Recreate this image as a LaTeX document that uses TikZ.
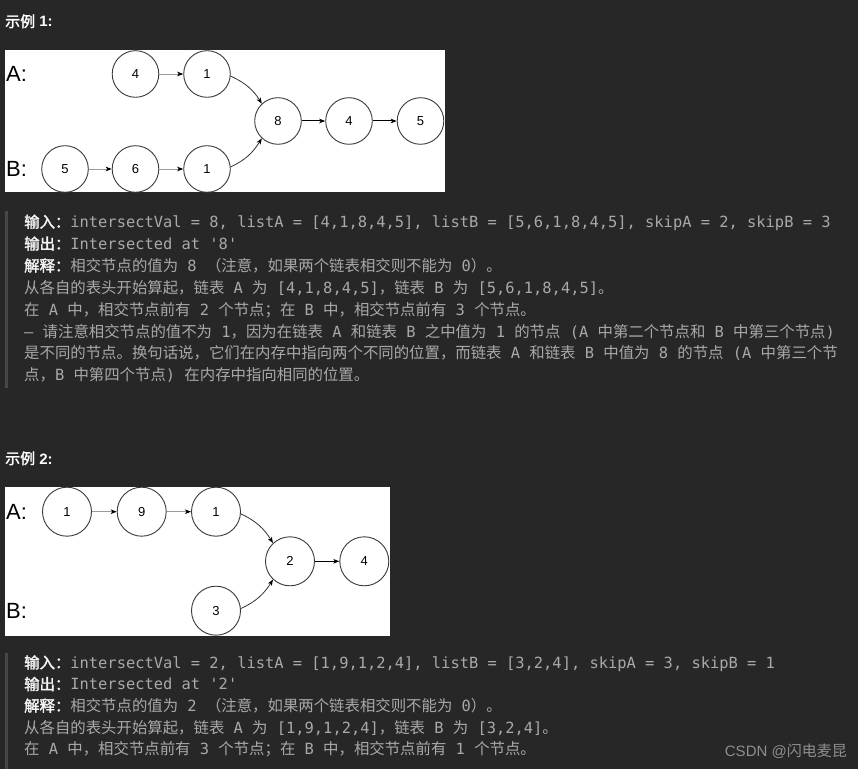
\documentclass[tikz,border=0pt]{standalone}
\usepackage{fontspec}
\setmainfont{Liberation Sans}
\setmonofont{DejaVu Sans Mono}
\newfontfamily\cjkf{Noto Sans CJK SC}
\newfontfamily\cjkbf[FakeBold=2]{Noto Sans CJK SC}
\usetikzlibrary{arrows.meta}
\definecolor{bg}{HTML}{272727}
\definecolor{txt}{HTML}{A9A9A9}
\definecolor{lbl}{HTML}{F4F4F4}
\definecolor{barc}{HTML}{474747}
\definecolor{edgeg}{HTML}{9A9A9A}
\definecolor{edged}{HTML}{333333}
\definecolor{circ}{HTML}{3A3A3A}
\definecolor{wm}{HTML}{8E8E8E}
\newcommand\zh[1]{{\cjkf #1}}
\newcommand\lb[1]{{\cjkbf\color{lbl}#1}}
\tikzset{
  txtline/.style={anchor=base west, inner sep=0pt, text=txt, font=\fontsize{15.4}{18}\ttfamily},
  header/.style={anchor=base west, inner sep=0pt, text=white, font=\fontsize{15}{18}\selectfont},
  lnode/.style={circle, draw=circ, line width=0.9pt, inner sep=0pt, text=black, font=\fontsize{13}{15}\selectfont},
  lone/.style={lnode, minimum size=46.6pt},
  ltwo/.style={lnode, minimum size=49pt},
  rowlabel/.style={anchor=west, inner sep=0pt, text=black, font=\fontsize{22}{24}\selectfont},
  grayarrow/.style={draw=edgeg, line width=0.9pt, -{Stealth[length=6pt,width=4.5pt,inset=1.5pt,color=black]}},
  darkarrow/.style={draw=edged, line width=0.8pt, -{Stealth[length=6pt,width=4.5pt,inset=1.5pt,color=black]}},
  blackarrow/.style={draw=black, line width=1pt, -{Stealth[length=6pt,width=4.5pt,inset=1.5pt,color=black]}},
  quotebar/.style={fill=barc, draw=none},
  panel/.style={fill=white, draw=none},
}
\begin{document}
\begin{tikzpicture}[x=1pt,y=1pt]
\fill[bg] (0,0) rectangle (858,769);
\useasboundingbox (0,0) rectangle (858,769);

% ---------- Example 1 ----------
\node[header] (h1) at (5,742) {{\cjkbf 示例} \textbf{1:}};
\fill[panel] (5,719) rectangle (445,576.5);
\node[rowlabel] (la1) at (6,695) {A:};
\node[rowlabel] (lb1) at (6,600) {B:};
\node[lone] (a1) at (135.5,695) {4};
\node[lone] (a2) at (207,695) {1};
\node[lone] (m1) at (278,648) {8};
\node[lone] (m2) at (349,648) {4};
\node[lone] (m3) at (420.5,648) {5};
\node[lone] (b1) at (65,600) {5};
\node[lone] (b2) at (135.5,600) {6};
\node[lone] (b3) at (207,600) {1};
\draw[grayarrow] (a1) -- (a2);
\draw[grayarrow] (b1) -- (b2);
\draw[grayarrow] (b2) -- (b3);
\draw[blackarrow] (m1) -- (m2);
\draw[blackarrow] (m2) -- (m3);
\draw[darkarrow] (a2.-5) to[out=-25,in=122] (m1.133);
\draw[darkarrow] (b3.5) to[out=25,in=-122] (m1.-133);

\fill[quotebar] (5,558) rectangle (7.5,381);
\node[txtline] (t11) at (24,541.4) {\lb{输入：}intersectVal = 8, listA = [4,1,8,4,5], listB = [5,6,1,8,4,5], skipA = 2, skipB = 3};
\node[txtline] (t12) at (24,519.5) {\lb{输出：}Intersected at '8'};
\node[txtline] (t13) at (24,497.6) {\lb{解释：}\zh{相交节点的值为} 8 \zh{（注意，如果两个链表相交则不能为} 0\zh{）。}};
\node[txtline] (t14) at (24,475.7) {\zh{从各自的表头开始算起，链表} A \zh{为} [4,1,8,4,5]\zh{，链表} B \zh{为} [5,6,1,8,4,5]\zh{。}};
\node[txtline] (t15) at (24,453.8) {\zh{在} A \zh{中，相交节点前有} 2 \zh{个节点；在} B \zh{中，相交节点前有} 3 \zh{个节点。}};
\node[txtline] (t16) at (24,431.9) {— \zh{请注意相交节点的值不为} 1\zh{，因为在链表} A \zh{和链表} B \zh{之中值为} 1 \zh{的节点} (A \zh{中第二个节点和} B \zh{中第三个节点})};
\node[txtline] (t17) at (24,410) {\zh{是不同的节点。换句话说，它们在内存中指向两个不同的位置，而链表} A \zh{和链表} B \zh{中值为} 8 \zh{的节点} (A \zh{中第三个节}};
\node[txtline] (t18) at (24,388.1) {\zh{点，}B \zh{中第四个节点}) \zh{在内存中指向相同的位置。}};

% ---------- Example 2 ----------
\node[header] (h2) at (5,305) {{\cjkbf 示例} \textbf{2:}};
\fill[panel] (5,282) rectangle (390,133.3);
\node[rowlabel] (la2) at (6,257.3) {A:};
\node[rowlabel] (lb2) at (6,158) {B:};
\node[ltwo] (p1) at (67,257.3) {1};
\node[ltwo] (p2) at (141.7,257.3) {9};
\node[ltwo] (p3) at (216,257.3) {1};
\node[ltwo] (q1) at (290,207.7) {2};
\node[ltwo] (q2) at (364.3,207.7) {4};
\node[ltwo] (r1) at (216,158.3) {3};
\draw[grayarrow] (p1) -- (p2);
\draw[grayarrow] (p2) -- (p3);
\draw[blackarrow] (q1) -- (q2);
\draw[darkarrow] (p3.-5) to[out=-25,in=122] (q1.133);
\draw[darkarrow] (r1.5) to[out=25,in=-122] (q1.-133);

\fill[quotebar] (5,116) rectangle (7.5,0);
\node[txtline] (t21) at (24,100.7) {\lb{输入：}intersectVal = 2, listA = [1,9,1,2,4], listB = [3,2,4], skipA = 3, skipB = 1};
\node[txtline] (t22) at (24,79.1) {\lb{输出：}Intersected at '2'};
\node[txtline] (t23) at (24,57.5) {\lb{解释：}\zh{相交节点的值为} 2 \zh{（注意，如果两个链表相交则不能为} 0\zh{）。}};
\node[txtline] (t24) at (24,35.9) {\zh{从各自的表头开始算起，链表} A \zh{为} [1,9,1,2,4]\zh{，链表} B \zh{为} [3,2,4]\zh{。}};
\node[txtline] (t25) at (24,14.3) {\zh{在} A \zh{中，相交节点前有} 3 \zh{个节点；在} B \zh{中，相交节点前有} 1 \zh{个节点。}};

\node[anchor=base east, inner sep=0pt, text=wm, font=\fontsize{15}{18}\selectfont] (wmk) at (847,13) {CSDN @\zh{闪电麦昆}};
\end{tikzpicture}
\end{document}
